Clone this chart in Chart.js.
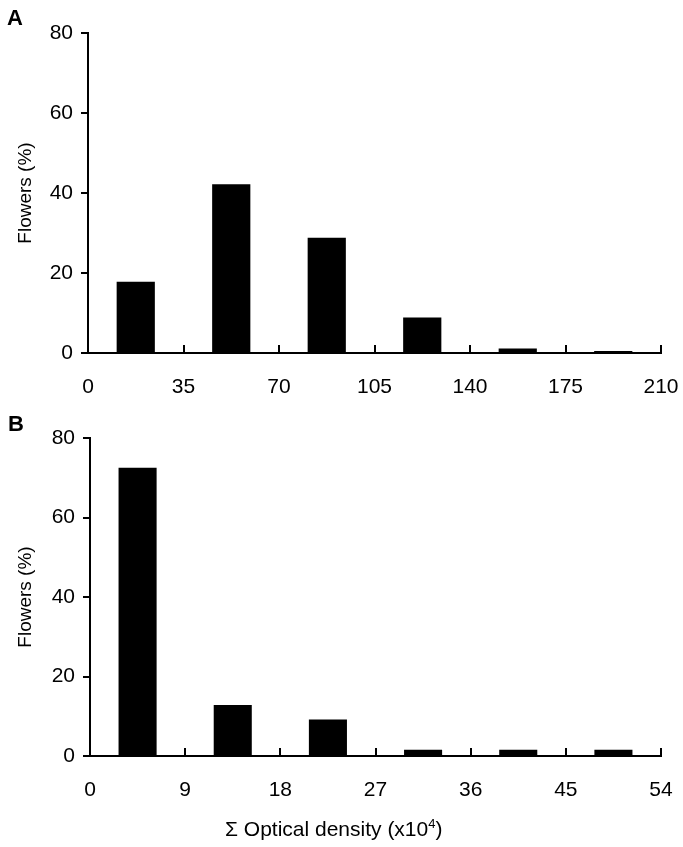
<!DOCTYPE html>
<html>
<head>
<meta charset="utf-8">
<script src="https://cdn.jsdelivr.net/npm/chart.js@4.4.1/dist/chart.umd.min.js"></script>
<style>
  body { margin: 0; background: #fff; font-family: "Liberation Sans", Arial, sans-serif; }
  #wrap { position: relative; width: 683px; height: 847px; overflow: hidden; }
  .panel { position: absolute; left: 0; width: 683px; }
  .letter { position: absolute; font-weight: bold; font-size: 22px; line-height: 1; color: #000; }
  #xtitle { position: absolute; left: 225px; top: 818px; font-size: 21px; line-height: 1; color: #000; white-space: nowrap; }
  #xtitle sup { font-size: 13px; line-height: 0; vertical-align: 8px; }
</style>
</head>
<body>
<div id="wrap">
  <div class="panel" style="top:0;height:400px"><canvas id="chartA"></canvas></div>
  <div class="panel" style="top:400px;height:447px"><canvas id="chartB"></canvas></div>
  <div class="letter" style="left:7px;top:7px">A</div>
  <div class="letter" style="left:8px;top:413px">B</div>
  <div id="xtitle">&Sigma; Optical density (x10<sup>4</sup>)</div>
</div>
<script>
// panel A: bin centres and % of flowers
const binsA   = [17.5, 52.5, 87.5, 122.5, 157.5, 192.5];
const valuesA = [17.8, 42.2, 28.8, 8.9, 1.1, 0.5];
const xTicksA = [0, 35, 70, 105, 140, 175, 210];

// panel B
const binsB   = [4.5, 13.5, 22.5, 31.5, 40.5, 49.5];
const valuesB = [72.5, 12.8, 9.2, 1.6, 1.6, 1.6];
const xTicksB = [0, 9, 18, 27, 36, 45, 54];

const yTicks = [0, 20, 40, 60, 80];

const FONT = { family: "'Liberation Sans', Arial, sans-serif", size: 21 };
const TITLE_FONT = { family: "'Liberation Sans', Arial, sans-serif", size: 19 };
Chart.defaults.color = "#000";

// short tick marks pointing up into the plot from the x axis
const innerTicks = {
  id: "innerTicks",
  afterDraw(chart) {
    const sx = chart.scales.x;
    const ctx = chart.ctx;
    ctx.save();
    ctx.strokeStyle = "#000";
    ctx.lineWidth = 2;
    sx.ticks.forEach(t => {
      if (t.value === sx.min) return;
      const px = Math.round(sx.getPixelForValue(t.value));
      ctx.beginPath();
      ctx.moveTo(px, sx.top);
      ctx.lineTo(px, sx.top - 8);
      ctx.stroke();
    });
    ctx.restore();
  }
};

function makeChart(canvasId, bins, values, xTicks, opts) {
  const ctx = document.getElementById(canvasId).getContext("2d");
  return new Chart(ctx, {
    type: "bar",
    data: {
      datasets: [{
        data: bins.map((b, i) => ({ x: b, y: values[i] })),
        backgroundColor: "#000",
        borderWidth: 0,
        barPercentage: 0.4,
        categoryPercentage: 1.0
      }]
    },
    options: {
      responsive: true,
      maintainAspectRatio: false,
      animation: false,
      layout: { padding: { left: 0, right: opts.right, top: opts.top, bottom: opts.bottom } },
      plugins: { legend: { display: false }, tooltip: { enabled: false } },
      scales: {
        x: {
          type: "linear",
          offset: false,
          min: xTicks[0],
          max: xTicks[xTicks.length - 1],
          afterBuildTicks: s => { s.ticks = xTicks.map(v => ({ value: v })); },
          afterFit: s => {
            s.height = opts.xHeight;
            // the end labels may overhang; the layout padding takes care of it
            s.paddingLeft = 0;
            s.paddingRight = 0;
          },
          grid: { display: false, drawTicks: false },
          border: { color: "#000", width: 2 },
          ticks: { font: FONT, color: "#000", padding: 22, maxRotation: 0, autoSkip: false }
        },
        y: {
          min: 0,
          max: 80,
          afterBuildTicks: s => { s.ticks = yTicks.map(v => ({ value: v })); },
          afterFit: s => { s.width = opts.yWidth; },
          grid: { drawOnChartArea: false, drawTicks: true, tickLength: 7, color: "#000", lineWidth: 2 },
          border: { color: "#000", width: 2 },
          ticks: { font: FONT, color: "#000", padding: 8 },
          title: { display: true, text: "Flowers (%)", font: TITLE_FONT, color: "#000", padding: { top: 14, bottom: 0 } }
        }
      }
    },
    plugins: [innerTicks]
  });
}

makeChart("chartA", binsA, valuesA, xTicksA, { top: 33, bottom: 0, right: 22, xHeight: 47, yWidth: 88 });
makeChart("chartB", binsB, valuesB, xTicksB, { top: 38, bottom: 0, right: 22, xHeight: 91, yWidth: 90 });
</script>
</body>
</html>
